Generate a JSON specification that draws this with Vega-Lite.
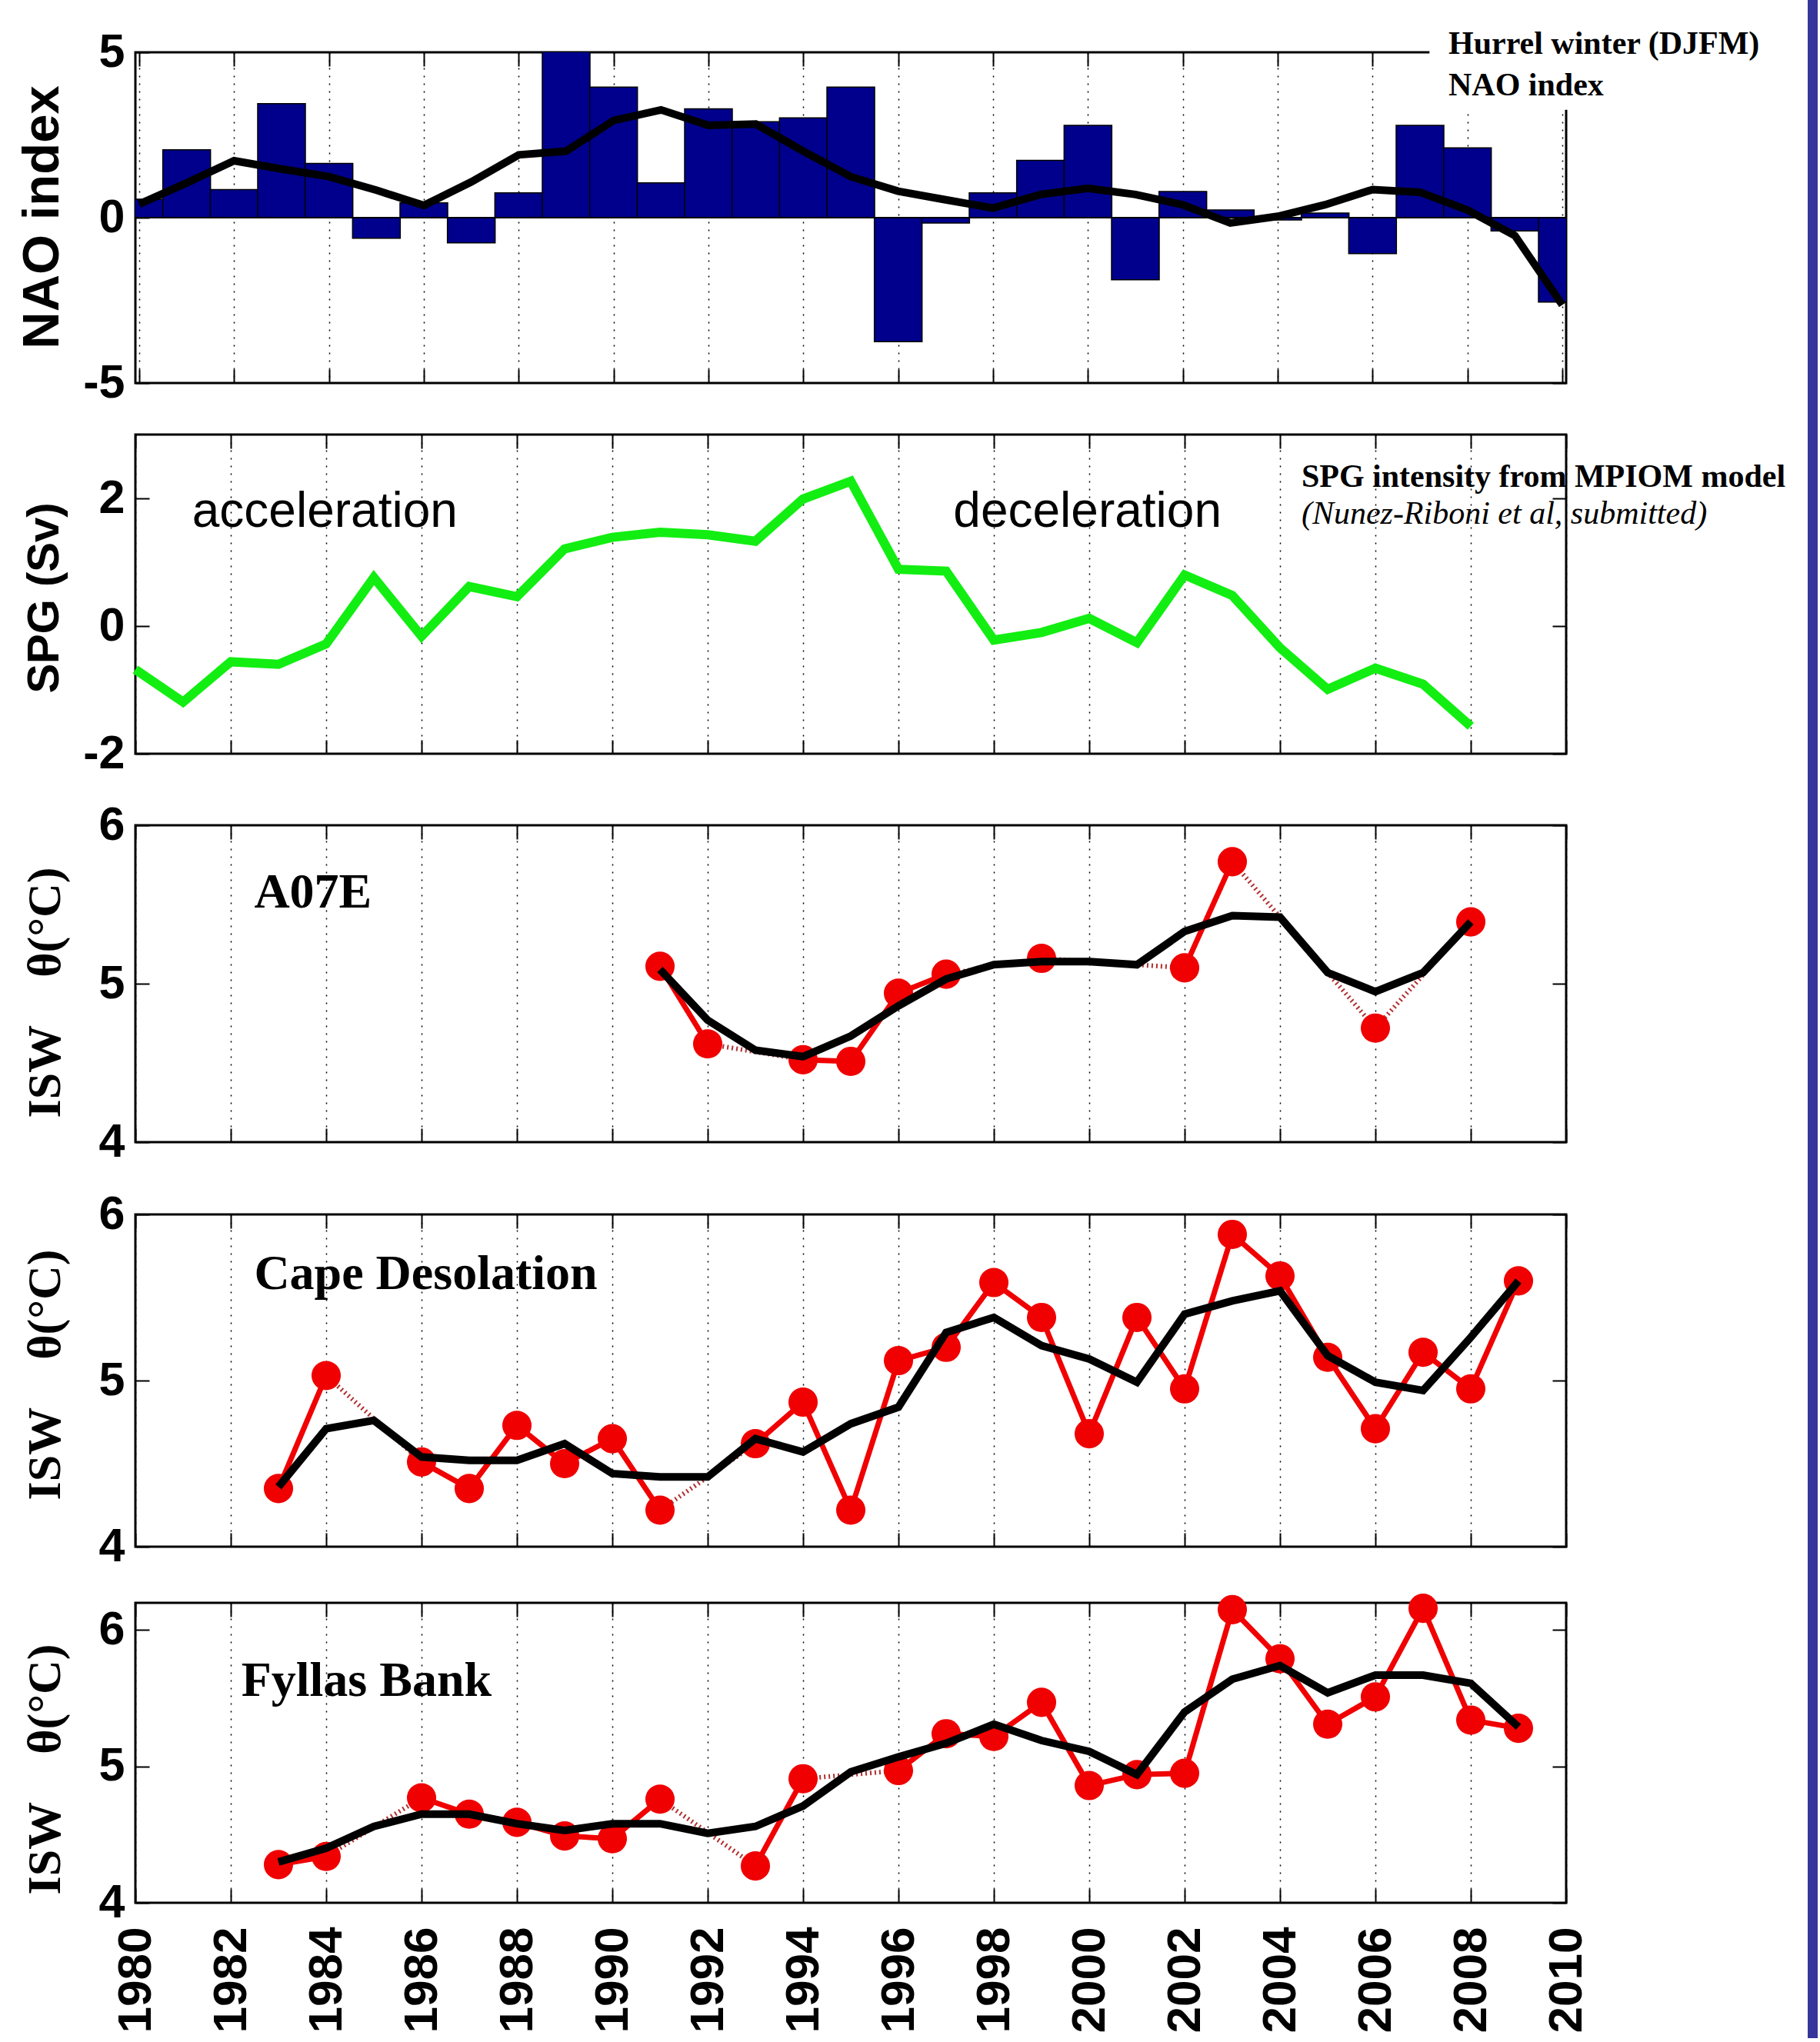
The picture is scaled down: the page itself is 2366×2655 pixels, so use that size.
{
  "$schema": "https://vega.github.io/schema/vega-lite/v6.json",
  "usermeta": {"embedOptions": {"actions": false}},
  "autosize": {"type": "pad"},
  "padding": {"left": 19, "top": 0, "right": 0, "bottom": 0},
  "background": "white",
  "columns": 2,
  "bounds": "flush",
  "align": "each",
  "spacing": {"row": 0, "column": 314},
  "config": {
    "view": {"stroke": "#000", "strokeWidth": 3},
    "axis": {
      "domain": false, "ticks": true, "tickSize": -18, "tickWidth": 2, "tickColor": "#000",
      "labelColor": "#000", "labelFont": "Liberation Sans", "labelFontWeight": "bold", "labelFontSize": 61,
      "gridColor": "#000", "gridDash": [2, 8], "gridWidth": 1.5, "gridOpacity": 1, "titleColor": "#000"
    }
  },
  "datasets": {
    "nao": [
      {"year": 1980, "nao": 0.56}, {"year": 1981, "nao": 2.05}, {"year": 1982, "nao": 0.85}, {"year": 1983, "nao": 3.45},
      {"year": 1984, "nao": 1.64}, {"year": 1985, "nao": -0.62}, {"year": 1986, "nao": 0.45}, {"year": 1987, "nao": -0.76},
      {"year": 1988, "nao": 0.75}, {"year": 1989, "nao": 5.08}, {"year": 1990, "nao": 3.95}, {"year": 1991, "nao": 1.05},
      {"year": 1992, "nao": 3.29}, {"year": 1993, "nao": 2.9}, {"year": 1994, "nao": 3.02}, {"year": 1995, "nao": 3.95},
      {"year": 1996, "nao": -3.75}, {"year": 1997, "nao": -0.16}, {"year": 1998, "nao": 0.75}, {"year": 1999, "nao": 1.73},
      {"year": 2000, "nao": 2.79}, {"year": 2001, "nao": -1.88}, {"year": 2002, "nao": 0.79}, {"year": 2003, "nao": 0.23},
      {"year": 2004, "nao": -0.07}, {"year": 2005, "nao": 0.14}, {"year": 2006, "nao": -1.09}, {"year": 2007, "nao": 2.79},
      {"year": 2008, "nao": 2.11}, {"year": 2009, "nao": -0.4}, {"year": 2010, "nao": -2.55}
    ],
    "nao_smooth": [
      {"year": 1980, "value": 0.41}, {"year": 1981, "value": 1.05}, {"year": 1982, "value": 1.72}, {"year": 1983, "value": 1.47},
      {"year": 1984, "value": 1.24}, {"year": 1985, "value": 0.83}, {"year": 1986, "value": 0.37}, {"year": 1987, "value": 1.08},
      {"year": 1988, "value": 1.9}, {"year": 1989, "value": 2.01}, {"year": 1990, "value": 2.94}, {"year": 1991, "value": 3.26},
      {"year": 1992, "value": 2.79}, {"year": 1993, "value": 2.83}, {"year": 1994, "value": 2.01}, {"year": 1995, "value": 1.24},
      {"year": 1996, "value": 0.8}, {"year": 1997, "value": 0.54}, {"year": 1998, "value": 0.29}, {"year": 1999, "value": 0.7},
      {"year": 2000, "value": 0.89}, {"year": 2001, "value": 0.7}, {"year": 2002, "value": 0.39}, {"year": 2003, "value": -0.16},
      {"year": 2004, "value": 0.04}, {"year": 2005, "value": 0.39}, {"year": 2006, "value": 0.85}, {"year": 2007, "value": 0.77},
      {"year": 2008, "value": 0.23}, {"year": 2009, "value": -0.54}, {"year": 2010, "value": -2.64}
    ],
    "spg": [
      {"year": 1980, "spg": -0.68}, {"year": 1981, "spg": -1.19}, {"year": 1982, "spg": -0.56}, {"year": 1983, "spg": -0.6},
      {"year": 1984, "spg": -0.28}, {"year": 1985, "spg": 0.76}, {"year": 1986, "spg": -0.16}, {"year": 1987, "spg": 0.62},
      {"year": 1988, "spg": 0.46}, {"year": 1989, "spg": 1.21}, {"year": 1990, "spg": 1.39}, {"year": 1991, "spg": 1.47},
      {"year": 1992, "spg": 1.43}, {"year": 1993, "spg": 1.33}, {"year": 1994, "spg": 1.99}, {"year": 1995, "spg": 2.27},
      {"year": 1996, "spg": 0.89}, {"year": 1997, "spg": 0.86}, {"year": 1998, "spg": -0.22}, {"year": 1999, "spg": -0.1},
      {"year": 2000, "spg": 0.12}, {"year": 2001, "spg": -0.26}, {"year": 2002, "spg": 0.8}, {"year": 2003, "spg": 0.48},
      {"year": 2004, "spg": -0.34}, {"year": 2005, "spg": -0.99}, {"year": 2006, "spg": -0.66}, {"year": 2007, "spg": -0.91},
      {"year": 2008, "spg": -1.57}
    ],
    "isw": [
      {"station": "A07E", "year": 1991, "temp": 5.11, "run": "a"}, {"station": "A07E", "year": 1992, "temp": 4.62, "run": "a"},
      {"station": "A07E", "year": 1994, "temp": 4.52, "run": "b"}, {"station": "A07E", "year": 1995, "temp": 4.51, "run": "b"},
      {"station": "A07E", "year": 1996, "temp": 4.94, "run": "b"}, {"station": "A07E", "year": 1997, "temp": 5.06, "run": "b"},
      {"station": "A07E", "year": 1999, "temp": 5.16, "run": "c"}, {"station": "A07E", "year": 2002, "temp": 5.1, "run": "d"},
      {"station": "A07E", "year": 2003, "temp": 5.77, "run": "d"}, {"station": "A07E", "year": 2006, "temp": 4.72, "run": "e"},
      {"station": "A07E", "year": 2008, "temp": 5.39, "run": "f"},
      {"station": "Cape", "year": 1983, "temp": 4.35, "run": "a"}, {"station": "Cape", "year": 1984, "temp": 5.03, "run": "a"},
      {"station": "Cape", "year": 1986, "temp": 4.51, "run": "b"}, {"station": "Cape", "year": 1987, "temp": 4.35, "run": "b"},
      {"station": "Cape", "year": 1988, "temp": 4.73, "run": "b"}, {"station": "Cape", "year": 1989, "temp": 4.5, "run": "b"},
      {"station": "Cape", "year": 1990, "temp": 4.65, "run": "b"}, {"station": "Cape", "year": 1991, "temp": 4.22, "run": "b"},
      {"station": "Cape", "year": 1993, "temp": 4.62, "run": "c"}, {"station": "Cape", "year": 1994, "temp": 4.87, "run": "c"},
      {"station": "Cape", "year": 1995, "temp": 4.22, "run": "c"}, {"station": "Cape", "year": 1996, "temp": 5.12, "run": "c"},
      {"station": "Cape", "year": 1997, "temp": 5.2, "run": "c"}, {"station": "Cape", "year": 1998, "temp": 5.59, "run": "c"},
      {"station": "Cape", "year": 1999, "temp": 5.38, "run": "c"}, {"station": "Cape", "year": 2000, "temp": 4.68, "run": "c"},
      {"station": "Cape", "year": 2001, "temp": 5.38, "run": "c"}, {"station": "Cape", "year": 2002, "temp": 4.95, "run": "c"},
      {"station": "Cape", "year": 2003, "temp": 5.88, "run": "c"}, {"station": "Cape", "year": 2004, "temp": 5.63, "run": "c"},
      {"station": "Cape", "year": 2005, "temp": 5.14, "run": "c"}, {"station": "Cape", "year": 2006, "temp": 4.71, "run": "c"},
      {"station": "Cape", "year": 2007, "temp": 5.17, "run": "c"}, {"station": "Cape", "year": 2008, "temp": 4.95, "run": "c"},
      {"station": "Cape", "year": 2009, "temp": 5.6, "run": "c"},
      {"station": "Fyllas", "year": 1983, "temp": 4.28, "run": "a"}, {"station": "Fyllas", "year": 1984, "temp": 4.34, "run": "a"},
      {"station": "Fyllas", "year": 1986, "temp": 4.77, "run": "b"}, {"station": "Fyllas", "year": 1987, "temp": 4.65, "run": "b"},
      {"station": "Fyllas", "year": 1988, "temp": 4.59, "run": "b"}, {"station": "Fyllas", "year": 1989, "temp": 4.49, "run": "b"},
      {"station": "Fyllas", "year": 1990, "temp": 4.47, "run": "b"}, {"station": "Fyllas", "year": 1991, "temp": 4.76, "run": "b"},
      {"station": "Fyllas", "year": 1993, "temp": 4.27, "run": "c"}, {"station": "Fyllas", "year": 1994, "temp": 4.91, "run": "c"},
      {"station": "Fyllas", "year": 1996, "temp": 4.97, "run": "d"}, {"station": "Fyllas", "year": 1997, "temp": 5.24, "run": "d"},
      {"station": "Fyllas", "year": 1998, "temp": 5.22, "run": "d"}, {"station": "Fyllas", "year": 1999, "temp": 5.47, "run": "d"},
      {"station": "Fyllas", "year": 2000, "temp": 4.86, "run": "d"}, {"station": "Fyllas", "year": 2001, "temp": 4.94, "run": "d"},
      {"station": "Fyllas", "year": 2002, "temp": 4.95, "run": "d"}, {"station": "Fyllas", "year": 2003, "temp": 6.15, "run": "d"},
      {"station": "Fyllas", "year": 2004, "temp": 5.79, "run": "d"}, {"station": "Fyllas", "year": 2005, "temp": 5.31, "run": "d"},
      {"station": "Fyllas", "year": 2006, "temp": 5.51, "run": "d"}, {"station": "Fyllas", "year": 2007, "temp": 6.16, "run": "d"},
      {"station": "Fyllas", "year": 2008, "temp": 5.34, "run": "d"}, {"station": "Fyllas", "year": 2009, "temp": 5.28, "run": "d"}
    ],
    "isw_smooth": [
      {"station": "A07E", "year": 1991, "temp": 5.09}, {"station": "A07E", "year": 1992, "temp": 4.77}, {"station": "A07E", "year": 1993, "temp": 4.58},
      {"station": "A07E", "year": 1994, "temp": 4.54}, {"station": "A07E", "year": 1995, "temp": 4.67}, {"station": "A07E", "year": 1996, "temp": 4.86},
      {"station": "A07E", "year": 1997, "temp": 5.03}, {"station": "A07E", "year": 1998, "temp": 5.12}, {"station": "A07E", "year": 1999, "temp": 5.14},
      {"station": "A07E", "year": 2000, "temp": 5.14}, {"station": "A07E", "year": 2001, "temp": 5.12}, {"station": "A07E", "year": 2002, "temp": 5.33},
      {"station": "A07E", "year": 2003, "temp": 5.43}, {"station": "A07E", "year": 2004, "temp": 5.42}, {"station": "A07E", "year": 2005, "temp": 5.07},
      {"station": "A07E", "year": 2006, "temp": 4.95}, {"station": "A07E", "year": 2007, "temp": 5.07}, {"station": "A07E", "year": 2008, "temp": 5.39},
      {"station": "Cape", "year": 1983, "temp": 4.36}, {"station": "Cape", "year": 1984, "temp": 4.71}, {"station": "Cape", "year": 1985, "temp": 4.76},
      {"station": "Cape", "year": 1986, "temp": 4.54}, {"station": "Cape", "year": 1987, "temp": 4.52}, {"station": "Cape", "year": 1988, "temp": 4.52},
      {"station": "Cape", "year": 1989, "temp": 4.62}, {"station": "Cape", "year": 1990, "temp": 4.44}, {"station": "Cape", "year": 1991, "temp": 4.42},
      {"station": "Cape", "year": 1992, "temp": 4.42}, {"station": "Cape", "year": 1993, "temp": 4.65}, {"station": "Cape", "year": 1994, "temp": 4.57},
      {"station": "Cape", "year": 1995, "temp": 4.74}, {"station": "Cape", "year": 1996, "temp": 4.84}, {"station": "Cape", "year": 1997, "temp": 5.29},
      {"station": "Cape", "year": 1998, "temp": 5.38}, {"station": "Cape", "year": 1999, "temp": 5.21}, {"station": "Cape", "year": 2000, "temp": 5.13},
      {"station": "Cape", "year": 2001, "temp": 4.99}, {"station": "Cape", "year": 2002, "temp": 5.4}, {"station": "Cape", "year": 2003, "temp": 5.48},
      {"station": "Cape", "year": 2004, "temp": 5.54}, {"station": "Cape", "year": 2005, "temp": 5.15}, {"station": "Cape", "year": 2006, "temp": 4.99},
      {"station": "Cape", "year": 2007, "temp": 4.94}, {"station": "Cape", "year": 2008, "temp": 5.26}, {"station": "Cape", "year": 2009, "temp": 5.6},
      {"station": "Fyllas", "year": 1983, "temp": 4.3}, {"station": "Fyllas", "year": 1984, "temp": 4.4}, {"station": "Fyllas", "year": 1985, "temp": 4.56},
      {"station": "Fyllas", "year": 1986, "temp": 4.65}, {"station": "Fyllas", "year": 1987, "temp": 4.65}, {"station": "Fyllas", "year": 1988, "temp": 4.58},
      {"station": "Fyllas", "year": 1989, "temp": 4.53}, {"station": "Fyllas", "year": 1990, "temp": 4.58}, {"station": "Fyllas", "year": 1991, "temp": 4.58},
      {"station": "Fyllas", "year": 1992, "temp": 4.51}, {"station": "Fyllas", "year": 1993, "temp": 4.56}, {"station": "Fyllas", "year": 1994, "temp": 4.71},
      {"station": "Fyllas", "year": 1995, "temp": 4.96}, {"station": "Fyllas", "year": 1996, "temp": 5.07}, {"station": "Fyllas", "year": 1997, "temp": 5.17},
      {"station": "Fyllas", "year": 1998, "temp": 5.31}, {"station": "Fyllas", "year": 1999, "temp": 5.19}, {"station": "Fyllas", "year": 2000, "temp": 5.11},
      {"station": "Fyllas", "year": 2001, "temp": 4.94}, {"station": "Fyllas", "year": 2002, "temp": 5.4}, {"station": "Fyllas", "year": 2003, "temp": 5.64},
      {"station": "Fyllas", "year": 2004, "temp": 5.74}, {"station": "Fyllas", "year": 2005, "temp": 5.54}, {"station": "Fyllas", "year": 2006, "temp": 5.67},
      {"station": "Fyllas", "year": 2007, "temp": 5.67}, {"station": "Fyllas", "year": 2008, "temp": 5.61}, {"station": "Fyllas", "year": 2009, "temp": 5.29}
    ]
  },
  "concat": [
    {"width": 1860, "height": 68, "view": {"stroke": null}, "data": {"values": [{}]}, "mark": {"type": "point", "opacity": 0}, "encoding": {}},
    {"width": 13, "height": 68, "view": {"stroke": null, "fill": "#35359b"}, "data": {"values": [{}]}, "mark": {"type": "point", "opacity": 0}, "encoding": {}},

    {
      "width": 1860, "height": 430,
      "resolve": {"axis": {"x": "independent", "y": "independent"}},
      "layer": [
        {
          "data": {"name": "nao"},
          "mark": {"type": "bar", "color": "#00008c", "stroke": "#000", "strokeWidth": 1.5, "width": 62, "clip": true},
          "encoding": {
            "x": {"field": "year", "type": "quantitative", "scale": {"domain": [1980, 2010], "nice": false, "zero": false},
                  "axis": {"orient": "bottom", "values": [1980,1982,1984,1986,1988,1990,1992,1994,1996,1998,2000,2002,2004,2006,2008,2010], "labels": false, "title": null, "grid": true}},
            "y": {"field": "nao", "type": "quantitative", "scale": {"domain": [-5, 5], "nice": false},
                  "axis": {"orient": "left", "values": [-5, 0, 5], "labelExpr": "'' + datum.value", "labelPadding": 32, "grid": false,
                           "title": "NAO index", "titleFont": "Liberation Sans", "titleFontSize": 67, "titleFontWeight": "bold",
                           "titleX": -101, "titleY": 214, "titleAlign": "center", "titleBaseline": "alphabetic", "titleAngle": 270}}
          }
        },
        {
          "data": {"values": [{}]},
          "mark": {"type": "rule", "color": "#000", "strokeWidth": 2},
          "encoding": {"y": {"datum": 0, "type": "quantitative", "axis": null}}
        },
        {
          "data": {"name": "nao_smooth"},
          "mark": {"type": "line", "color": "#000", "strokeWidth": 10},
          "encoding": {
            "x": {"field": "year", "type": "quantitative", "axis": null},
            "y": {"field": "value", "type": "quantitative", "axis": null}
          }
        },
        {
          "data": {"values": [{}]},
          "mark": {"type": "rect", "color": "white", "clip": false},
          "encoding": {
            "x": {"datum": 2007.2, "type": "quantitative", "axis": null},
            "x2": {"datum": 2015},
            "y": {"datum": 3.26, "type": "quantitative", "axis": null},
            "y2": {"datum": 6.1}
          }
        },
        {
          "data": {"values": [{"label": "Hurrel winter (DJFM)", "year": 2007.6, "value": 4.95}, {"label": "NAO index", "year": 2007.6, "value": 3.7}]},
          "mark": {"type": "text", "font": "Liberation Serif", "fontWeight": "bold", "fontSize": 42, "align": "left", "baseline": "alphabetic", "color": "#000"},
          "encoding": {
            "x": {"field": "year", "type": "quantitative", "axis": null},
            "y": {"field": "value", "type": "quantitative", "axis": null},
            "text": {"field": "label"}
          }
        },
        {
          "data": {"name": "nao"},
          "mark": {"type": "point", "opacity": 0},
          "encoding": {
            "x": {"field": "year", "type": "quantitative", "axis": {"orient": "top", "values": [1980,1982,1984,1986,1988,1990,1992,1994,1996,1998,2000,2002,2004,2006], "labels": false, "title": null, "grid": false}},
            "y": {"field": "nao", "type": "quantitative", "axis": {"orient": "right", "values": [-5, 0], "labels": false, "title": null, "grid": false}}
          }
        }
      ]
    },
    {"width": 13, "height": 430, "view": {"stroke": null, "fill": "#35359b"}, "data": {"values": [{}]}, "mark": {"type": "point", "opacity": 0}, "encoding": {}},

    {"width": 1860, "height": 67, "view": {"stroke": null}, "data": {"values": [{}]}, "mark": {"type": "point", "opacity": 0}, "encoding": {}},
    {"width": 13, "height": 67, "view": {"stroke": null, "fill": "#35359b"}, "data": {"values": [{}]}, "mark": {"type": "point", "opacity": 0}, "encoding": {}},

    {
      "width": 1860, "height": 415,
      "resolve": {"axis": {"x": "independent", "y": "independent"}},
      "layer": [
        {
          "data": {"name": "spg"},
          "mark": {"type": "line", "color": "#12ee12", "strokeWidth": 12},
          "encoding": {
            "x": {"field": "year", "type": "quantitative", "scale": {"domain": [1980, 2010], "nice": false, "zero": false},
                  "axis": {"orient": "bottom", "values": [1980,1982,1984,1986,1988,1990,1992,1994,1996,1998,2000,2002,2004,2006,2008,2010], "labels": false, "title": null, "grid": true}},
            "y": {"field": "spg", "type": "quantitative", "scale": {"domain": [-2, 3], "nice": false, "zero": false},
                  "axis": {"orient": "left", "values": [-2, 0, 2], "labelExpr": "'' + datum.value", "labelPadding": 32, "grid": false,
                           "title": "SPG (Sv)", "titleFont": "Liberation Sans", "titleFontSize": 58, "titleFontWeight": "bold",
                           "titleX": -101, "titleY": 212, "titleAlign": "center", "titleBaseline": "alphabetic", "titleAngle": 270}}
          }
        },
        {
          "data": {"values": [{"label": "acceleration", "year": 1981.19, "value": 1.55}, {"label": "deceleration", "year": 1997.15, "value": 1.55}]},
          "mark": {"type": "text", "font": "Liberation Sans", "fontSize": 64, "align": "left", "baseline": "alphabetic", "color": "#000"},
          "encoding": {
            "x": {"field": "year", "type": "quantitative", "axis": null},
            "y": {"field": "value", "type": "quantitative", "axis": null},
            "text": {"field": "label"}
          }
        },
        {
          "data": {"values": [{"label": "SPG intensity from MPIOM model", "year": 2004.45, "value": 2.18}]},
          "mark": {"type": "text", "font": "Liberation Serif", "fontWeight": "bold", "fontSize": 42, "align": "left", "baseline": "alphabetic", "color": "#000"},
          "encoding": {
            "x": {"field": "year", "type": "quantitative", "axis": null},
            "y": {"field": "value", "type": "quantitative", "axis": null},
            "text": {"field": "label"}
          }
        },
        {
          "data": {"values": [{"label": "(Nunez-Riboni et al, submitted)", "year": 2004.45, "value": 1.6}]},
          "mark": {"type": "text", "font": "Liberation Serif", "fontStyle": "italic", "fontSize": 42, "align": "left", "baseline": "alphabetic", "color": "#000"},
          "encoding": {
            "x": {"field": "year", "type": "quantitative", "axis": null},
            "y": {"field": "value", "type": "quantitative", "axis": null},
            "text": {"field": "label"}
          }
        },
        {
          "data": {"name": "spg"},
          "mark": {"type": "point", "opacity": 0},
          "encoding": {
            "x": {"field": "year", "type": "quantitative", "axis": {"orient": "top", "values": [1980,1982,1984,1986,1988,1990,1992,1994,1996,1998,2000,2002,2004,2006,2008,2010], "labels": false, "title": null, "grid": false}},
            "y": {"field": "spg", "type": "quantitative", "axis": {"orient": "right", "values": [-2, 0, 2], "labels": false, "title": null, "grid": false}}
          }
        }
      ]
    },
    {"width": 13, "height": 415, "view": {"stroke": null, "fill": "#35359b"}, "data": {"values": [{}]}, "mark": {"type": "point", "opacity": 0}, "encoding": {}},

    {"width": 1860, "height": 93, "view": {"stroke": null}, "data": {"values": [{}]}, "mark": {"type": "point", "opacity": 0}, "encoding": {}},
    {"width": 13, "height": 93, "view": {"stroke": null, "fill": "#35359b"}, "data": {"values": [{}]}, "mark": {"type": "point", "opacity": 0}, "encoding": {}},

    {
      "width": 1860, "height": 412,
      "resolve": {"axis": {"x": "independent", "y": "independent"}},
      "layer": [
        {
          "data": {"name": "isw"},
          "transform": [{"filter": "datum.station === 'A07E'"}],
          "mark": {"type": "line", "color": "#b03030", "strokeWidth": 6, "strokeDash": [2, 4]},
          "encoding": {
            "x": {"field": "year", "type": "quantitative", "scale": {"domain": [1980, 2010], "nice": false, "zero": false},
                  "axis": {"orient": "bottom", "values": [1980,1982,1984,1986,1988,1990,1992,1994,1996,1998,2000,2002,2004,2006,2008,2010], "labels": false, "title": null, "grid": true}},
            "y": {"field": "temp", "type": "quantitative", "scale": {"domain": [4, 6], "nice": false, "zero": false},
                  "axis": {"orient": "left", "values": [4, 5, 6], "labelExpr": "'' + datum.value", "labelPadding": 32, "grid": false,
                           "title": "ISW\u00a0\u00a0\u00a0\u00a0θ(°C)", "titleFont": "Liberation Serif", "titleFontSize": 62, "titleFontWeight": "bold",
                           "titleX": -99, "titleY": 217, "titleAlign": "center", "titleBaseline": "alphabetic", "titleAngle": 270}}
          }
        },
        {
          "data": {"name": "isw"},
          "transform": [{"filter": "datum.station === 'A07E'"}],
          "mark": {"type": "line", "color": "#f00000", "strokeWidth": 7},
          "encoding": {
            "x": {"field": "year", "type": "quantitative", "axis": null},
            "y": {"field": "temp", "type": "quantitative", "axis": null},
            "detail": {"field": "run"}
          }
        },
        {
          "data": {"name": "isw"},
          "transform": [{"filter": "datum.station === 'A07E'"}],
          "mark": {"type": "circle", "color": "#f00000", "size": 1450, "opacity": 1},
          "encoding": {
            "x": {"field": "year", "type": "quantitative", "axis": null},
            "y": {"field": "temp", "type": "quantitative", "axis": null}
          }
        },
        {
          "data": {"name": "isw_smooth"},
          "transform": [{"filter": "datum.station === 'A07E'"}],
          "mark": {"type": "line", "color": "#000", "strokeWidth": 10},
          "encoding": {
            "x": {"field": "year", "type": "quantitative", "axis": null},
            "y": {"field": "temp", "type": "quantitative", "axis": null}
          }
        },
        {
          "data": {"values": [{"label": "A07E", "year": 1982.49, "value": 5.48}]},
          "mark": {"type": "text", "font": "Liberation Serif", "fontWeight": "bold", "fontSize": 64, "align": "left", "baseline": "alphabetic", "color": "#000"},
          "encoding": {
            "x": {"field": "year", "type": "quantitative", "axis": null},
            "y": {"field": "value", "type": "quantitative", "axis": null},
            "text": {"field": "label"}
          }
        },
        {
          "data": {"name": "isw"},
          "transform": [{"filter": "datum.station === 'A07E'"}],
          "mark": {"type": "point", "opacity": 0},
          "encoding": {
            "x": {"field": "year", "type": "quantitative", "axis": {"orient": "top", "values": [1980,1982,1984,1986,1988,1990,1992,1994,1996,1998,2000,2002,2004,2006,2008,2010], "labels": false, "title": null, "grid": false}},
            "y": {"field": "temp", "type": "quantitative", "axis": {"orient": "right", "values": [4, 5, 6], "labels": false, "title": null, "grid": false}}
          }
        }
      ]
    },
    {"width": 13, "height": 412, "view": {"stroke": null, "fill": "#35359b"}, "data": {"values": [{}]}, "mark": {"type": "point", "opacity": 0}, "encoding": {}},

    {"width": 1860, "height": 94, "view": {"stroke": null}, "data": {"values": [{}]}, "mark": {"type": "point", "opacity": 0}, "encoding": {}},
    {"width": 13, "height": 94, "view": {"stroke": null, "fill": "#35359b"}, "data": {"values": [{}]}, "mark": {"type": "point", "opacity": 0}, "encoding": {}},

    {
      "width": 1860, "height": 432,
      "resolve": {"axis": {"x": "independent", "y": "independent"}},
      "layer": [
        {
          "data": {"name": "isw"},
          "transform": [{"filter": "datum.station === 'Cape'"}],
          "mark": {"type": "line", "color": "#b03030", "strokeWidth": 6, "strokeDash": [2, 4]},
          "encoding": {
            "x": {"field": "year", "type": "quantitative", "scale": {"domain": [1980, 2010], "nice": false, "zero": false},
                  "axis": {"orient": "bottom", "values": [1980,1982,1984,1986,1988,1990,1992,1994,1996,1998,2000,2002,2004,2006,2008,2010], "labels": false, "title": null, "grid": true}},
            "y": {"field": "temp", "type": "quantitative", "scale": {"domain": [4, 6], "nice": false, "zero": false},
                  "axis": {"orient": "left", "values": [4, 5, 6], "labelExpr": "'' + datum.value", "labelPadding": 32, "grid": false,
                           "title": "ISW\u00a0\u00a0\u00a0\u00a0θ(°C)", "titleFont": "Liberation Serif", "titleFontSize": 62, "titleFontWeight": "bold",
                           "titleX": -99, "titleY": 208, "titleAlign": "center", "titleBaseline": "alphabetic", "titleAngle": 270}}
          }
        },
        {
          "data": {"name": "isw"},
          "transform": [{"filter": "datum.station === 'Cape'"}],
          "mark": {"type": "line", "color": "#f00000", "strokeWidth": 7},
          "encoding": {
            "x": {"field": "year", "type": "quantitative", "axis": null},
            "y": {"field": "temp", "type": "quantitative", "axis": null},
            "detail": {"field": "run"}
          }
        },
        {
          "data": {"name": "isw"},
          "transform": [{"filter": "datum.station === 'Cape'"}],
          "mark": {"type": "circle", "color": "#f00000", "size": 1450, "opacity": 1},
          "encoding": {
            "x": {"field": "year", "type": "quantitative", "axis": null},
            "y": {"field": "temp", "type": "quantitative", "axis": null}
          }
        },
        {
          "data": {"name": "isw_smooth"},
          "transform": [{"filter": "datum.station === 'Cape'"}],
          "mark": {"type": "line", "color": "#000", "strokeWidth": 10},
          "encoding": {
            "x": {"field": "year", "type": "quantitative", "axis": null},
            "y": {"field": "temp", "type": "quantitative", "axis": null}
          }
        },
        {
          "data": {"values": [{"label": "Cape Desolation", "year": 1982.49, "value": 5.55}]},
          "mark": {"type": "text", "font": "Liberation Serif", "fontWeight": "bold", "fontSize": 64, "align": "left", "baseline": "alphabetic", "color": "#000"},
          "encoding": {
            "x": {"field": "year", "type": "quantitative", "axis": null},
            "y": {"field": "value", "type": "quantitative", "axis": null},
            "text": {"field": "label"}
          }
        },
        {
          "data": {"name": "isw"},
          "transform": [{"filter": "datum.station === 'Cape'"}],
          "mark": {"type": "point", "opacity": 0},
          "encoding": {
            "x": {"field": "year", "type": "quantitative", "axis": {"orient": "top", "values": [1980,1982,1984,1986,1988,1990,1992,1994,1996,1998,2000,2002,2004,2006,2008,2010], "labels": false, "title": null, "grid": false}},
            "y": {"field": "temp", "type": "quantitative", "axis": {"orient": "right", "values": [4, 5, 6], "labels": false, "title": null, "grid": false}}
          }
        }
      ]
    },
    {"width": 13, "height": 432, "view": {"stroke": null, "fill": "#35359b"}, "data": {"values": [{}]}, "mark": {"type": "point", "opacity": 0}, "encoding": {}},

    {"width": 1860, "height": 73, "view": {"stroke": null}, "data": {"values": [{}]}, "mark": {"type": "point", "opacity": 0}, "encoding": {}},
    {"width": 13, "height": 73, "view": {"stroke": null, "fill": "#35359b"}, "data": {"values": [{}]}, "mark": {"type": "point", "opacity": 0}, "encoding": {}},

    {
      "width": 1860, "height": 390,
      "resolve": {"axis": {"x": "independent", "y": "independent"}},
      "layer": [
        {
          "data": {"name": "isw"},
          "transform": [{"filter": "datum.station === 'Fyllas'"}],
          "mark": {"type": "line", "color": "#b03030", "strokeWidth": 6, "strokeDash": [2, 4]},
          "encoding": {
            "x": {"field": "year", "type": "quantitative", "scale": {"domain": [1980, 2010], "nice": false, "zero": false},
                  "axis": {"orient": "bottom", "values": [1980,1982,1984,1986,1988,1990,1992,1994,1996,1998,2000,2002,2004,2006,2008,2010], "labels": true, "format": "d",
                           "labelAngle": 270, "labelPadding": 49, "labelFontSize": 62, "labelFlush": false, "labelOverlap": false, "title": null, "grid": true}},
            "y": {"field": "temp", "type": "quantitative", "scale": {"domain": [4, 6.2], "nice": false, "zero": false},
                  "axis": {"orient": "left", "values": [4, 5, 6], "labelExpr": "'' + datum.value", "labelPadding": 32, "grid": false,
                           "title": "ISW\u00a0\u00a0\u00a0\u00a0θ(°C)", "titleFont": "Liberation Serif", "titleFontSize": 62, "titleFontWeight": "bold",
                           "titleX": -99, "titleY": 216, "titleAlign": "center", "titleBaseline": "alphabetic", "titleAngle": 270}}
          }
        },
        {
          "data": {"name": "isw"},
          "transform": [{"filter": "datum.station === 'Fyllas'"}],
          "mark": {"type": "line", "color": "#f00000", "strokeWidth": 7},
          "encoding": {
            "x": {"field": "year", "type": "quantitative", "axis": null},
            "y": {"field": "temp", "type": "quantitative", "axis": null},
            "detail": {"field": "run"}
          }
        },
        {
          "data": {"name": "isw"},
          "transform": [{"filter": "datum.station === 'Fyllas'"}],
          "mark": {"type": "circle", "color": "#f00000", "size": 1450, "opacity": 1},
          "encoding": {
            "x": {"field": "year", "type": "quantitative", "axis": null},
            "y": {"field": "temp", "type": "quantitative", "axis": null}
          }
        },
        {
          "data": {"name": "isw_smooth"},
          "transform": [{"filter": "datum.station === 'Fyllas'"}],
          "mark": {"type": "line", "color": "#000", "strokeWidth": 10},
          "encoding": {
            "x": {"field": "year", "type": "quantitative", "axis": null},
            "y": {"field": "temp", "type": "quantitative", "axis": null}
          }
        },
        {
          "data": {"values": [{"label": "Fyllas Bank", "year": 1982.22, "value": 5.52}]},
          "mark": {"type": "text", "font": "Liberation Serif", "fontWeight": "bold", "fontSize": 64, "align": "left", "baseline": "alphabetic", "color": "#000"},
          "encoding": {
            "x": {"field": "year", "type": "quantitative", "axis": null},
            "y": {"field": "value", "type": "quantitative", "axis": null},
            "text": {"field": "label"}
          }
        },
        {
          "data": {"name": "isw"},
          "transform": [{"filter": "datum.station === 'Fyllas'"}],
          "mark": {"type": "point", "opacity": 0},
          "encoding": {
            "x": {"field": "year", "type": "quantitative", "axis": {"orient": "top", "values": [1980,1982,1984,1986,1988,1990,1992,1994,1996,1998,2000,2002,2004,2006,2008,2010], "labels": false, "title": null, "grid": false}},
            "y": {"field": "temp", "type": "quantitative", "axis": {"orient": "right", "values": [4, 5, 6], "labels": false, "title": null, "grid": false}}
          }
        }
      ]
    },
    {"width": 13, "height": 390, "view": {"stroke": null, "fill": "#35359b"}, "data": {"values": [{}]}, "mark": {"type": "point", "opacity": 0}, "encoding": {}},

    {"width": 1860, "height": 176, "view": {"stroke": null}, "data": {"values": [{}]}, "mark": {"type": "point", "opacity": 0}, "encoding": {}},
    {"width": 13, "height": 176, "view": {"stroke": null, "fill": "#35359b"}, "data": {"values": [{}]}, "mark": {"type": "point", "opacity": 0}, "encoding": {}}
  ]
}
